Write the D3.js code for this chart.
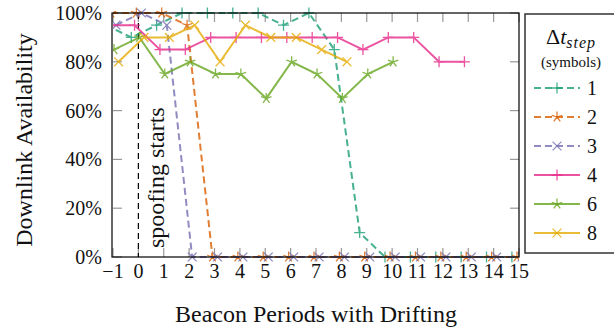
<!DOCTYPE html>
<html>
<head>
<meta charset="utf-8">
<script src="https://cdn.jsdelivr.net/npm/d3@7"></script>
<style>
  body { margin: 0; background: #fff; }
  text { font-family: "Liberation Serif", "DejaVu Serif", serif; fill: #111; }
</style>
</head>
<body>
<div id="chart"></div>
<script>
// beacon periods on the x axis
const periods = [-1, 0, 1, 2, 3, 4, 5, 6, 7, 8, 9, 10, 11, 12, 13, 14, 15];
const yTicks = [0, 20, 40, 60, 80, 100];

// downlink availability (%) per step size, starting at period -1
const step1 = [95, 90, 95, 100, 100, 100, 100, 95, 100, 85, 10, 0, 0, 0, 0, 0, 0];
const step2 = [100, 100, 100, 95, 0, 0, 0, 0, 0, 0, 0, 0, 0, 0, 0, 0, 0];
const step3 = [95, 100, 95, 0, 0, 0, 0, 0, 0, 0, 0, 0, 0, 0, 0, 0, 0];
const step4 = [95, 95, 85, 85, 90, 90, 90, 90, 90, 90, 85, 90, 90, 80, 80];
const step6 = [85, 90, 75, 80, 75, 75, 65, 80, 75, 65, 75, 80];
const step8 = [80, 90, 90, 95, 80, 95, 90, 90, 85, 80];

const series = [
    { name: "1", values: step1, color: "#1b9e77", dash: "7,4", mark: "plus", shift: -0.28 },
    { name: "2", values: step2, color: "#d95f02", dash: "7,4", mark: "star", shift: -0.08 },
    { name: "3", values: step3, color: "#7570b3", dash: "7,4", mark: "cross", shift: 0.12 },
    { name: "4", values: step4, color: "#e7298a", dash: null, mark: "plus", shift: -0.15 },
    { name: "6", values: step6, color: "#66a61e", dash: null, mark: "star", shift: 0.04 },
    { name: "8", values: step8, color: "#e6ab02", dash: null, mark: "cross", shift: 0.22 }
];

const width = 614, height = 331;
const plotLeft = 113, plotRight = 519, plotTop = 13, plotBottom = 257;

const svg = d3.select("#chart").append("svg")
    .attr("width", width)
    .attr("height", height);

const x = d3.scaleLinear().domain([-1, 15]).range([plotLeft, plotRight]);
const y = d3.scaleLinear().domain([0, 100]).range([plotBottom, plotTop]);

// marker path for a given shape
function markPath(type, r) {
    if (type === "plus") return `M${-r},0H${r}M0,${-r}V${r}`;
    if (type === "cross") {
        const a = r * 0.8;
        return `M${-a},${-a}L${a},${a}M${-a},${a}L${a},${-a}`;
    }
    // five armed star
    let p = "";
    for (let k = 0; k < 5; k++) {
        const ang = (90 + 72 * k) * Math.PI / 180;
        p += `M0,0L${(r * Math.cos(ang)).toFixed(2)},${(-r * Math.sin(ang)).toFixed(2)}`;
    }
    return p;
}

// gray inward ticks on all four sides
const tickColor = "#999";
const tickLen = 9;
const grid = svg.append("g");
periods.forEach(p => {
    grid.append("line").attr("x1", x(p)).attr("x2", x(p))
        .attr("y1", plotBottom).attr("y2", plotBottom - tickLen)
        .attr("stroke", tickColor).attr("stroke-width", 1.2);
    grid.append("line").attr("x1", x(p)).attr("x2", x(p))
        .attr("y1", plotTop).attr("y2", plotTop + tickLen)
        .attr("stroke", tickColor).attr("stroke-width", 1.2);
});
yTicks.forEach(t => {
    grid.append("line").attr("x1", plotLeft).attr("x2", plotLeft + tickLen)
        .attr("y1", y(t)).attr("y2", y(t))
        .attr("stroke", tickColor).attr("stroke-width", 1.2);
    grid.append("line").attr("x1", plotRight).attr("x2", plotRight - tickLen)
        .attr("y1", y(t)).attr("y2", y(t))
        .attr("stroke", tickColor).attr("stroke-width", 1.2);
});

// tick labels
svg.append("g").selectAll("text")
    .data(periods)
    .enter().append("text")
    .attr("x", d => x(d))
    .attr("y", 278)
    .attr("text-anchor", "middle")
    .attr("font-size", 20)
    .text(d => d < 0 ? "\u2212" + Math.abs(d) : d);

svg.append("g").selectAll("text")
    .data(yTicks)
    .enter().append("text")
    .attr("x", 102)
    .attr("y", d => y(d) + 7)
    .attr("text-anchor", "end")
    .attr("font-size", 20)
    .text(d => d + "%");

// spoofing marker
svg.append("line")
    .attr("x1", x(0)).attr("x2", x(0))
    .attr("y1", plotTop).attr("y2", plotBottom)
    .attr("stroke", "#000").attr("stroke-width", 1.2)
    .attr("stroke-dasharray", "6,4");

svg.append("text")
    .attr("transform", `translate(${x(0) + 26},248) rotate(-90)`)
    .attr("font-size", 24)
    .text("spoofing starts");

// clip lines to the plot's horizontal extent
svg.append("clipPath").attr("id", "clip")
    .append("rect")
    .attr("x", plotLeft).attr("y", 0)
    .attr("width", plotRight - plotLeft).attr("height", 270);

const plot = svg.append("g").attr("clip-path", "url(#clip)");

const line = d3.line()
    .x(d => x(d.p))
    .y(d => y(d.v));

series.forEach(s => {
    const pts = s.values.map((v, i) => ({ p: periods[i] + s.shift, v: v }));
    const g = plot.append("g").attr("opacity", 0.8);

    g.append("path")
        .datum(pts)
        .attr("d", line)
        .attr("fill", "none")
        .attr("stroke", s.color)
        .attr("stroke-width", 2)
        .attr("stroke-dasharray", s.dash);

    g.selectAll(".mark")
        .data(pts)
        .enter().append("path")
        .attr("class", "mark")
        .attr("transform", d => `translate(${x(d.p)},${y(d.v)})`)
        .attr("d", markPath(s.mark, 5.5))
        .attr("fill", "none")
        .attr("stroke", s.color)
        .attr("stroke-width", 1.3);
});

// axis frame
svg.append("rect")
    .attr("x", plotLeft - 1).attr("y", plotTop)
    .attr("width", plotRight - plotLeft + 1).attr("height", plotBottom - plotTop)
    .attr("fill", "none")
    .attr("stroke", "#000")
    .attr("stroke-width", 1.2);

// axis titles
svg.append("text")
    .attr("x", (plotLeft + plotRight) / 2)
    .attr("y", 322)
    .attr("text-anchor", "middle")
    .attr("font-size", 24)
    .text("Beacon Periods with Drifting");

svg.append("text")
    .attr("transform", `translate(32,140) rotate(-90)`)
    .attr("text-anchor", "middle")
    .attr("font-size", 24)
    .text("Downlink Availability");

// legend
const legend = svg.append("g");
legend.append("rect")
    .attr("x", 525).attr("y", 14)
    .attr("width", 100).attr("height", 239)
    .attr("fill", "#fff")
    .attr("stroke", "#333")
    .attr("stroke-width", 1.5);

const title = legend.append("text")
    .attr("x", 571).attr("y", 44)
    .attr("text-anchor", "middle")
    .attr("font-size", 22);
title.append("tspan").text("\u0394");
title.append("tspan").attr("font-style", "italic").text("t");
title.append("tspan").attr("font-style", "italic").attr("font-size", 16)
    .attr("dy", 4).attr("letter-spacing", 1).text("step");

legend.append("text")
    .attr("x", 571).attr("y", 67)
    .attr("text-anchor", "middle")
    .attr("font-size", 15)
    .text("(symbols)");

series.forEach((s, i) => {
    const ly = 88 + i * 29;
    legend.append("line")
        .attr("x1", 534).attr("x2", 580)
        .attr("y1", ly).attr("y2", ly)
        .attr("stroke", s.color).attr("opacity", 0.8)
        .attr("stroke-width", 2)
        .attr("stroke-dasharray", s.dash);
    legend.append("path")
        .attr("transform", `translate(557,${ly})`)
        .attr("d", markPath(s.mark, 5.5))
        .attr("fill", "none")
        .attr("stroke", s.color).attr("opacity", 0.8)
        .attr("stroke-width", 1.3);
    legend.append("text")
        .attr("x", 592).attr("y", ly + 7)
        .attr("text-anchor", "middle")
        .attr("font-size", 20)
        .text(s.name);
});
</script>
</body>
</html>
